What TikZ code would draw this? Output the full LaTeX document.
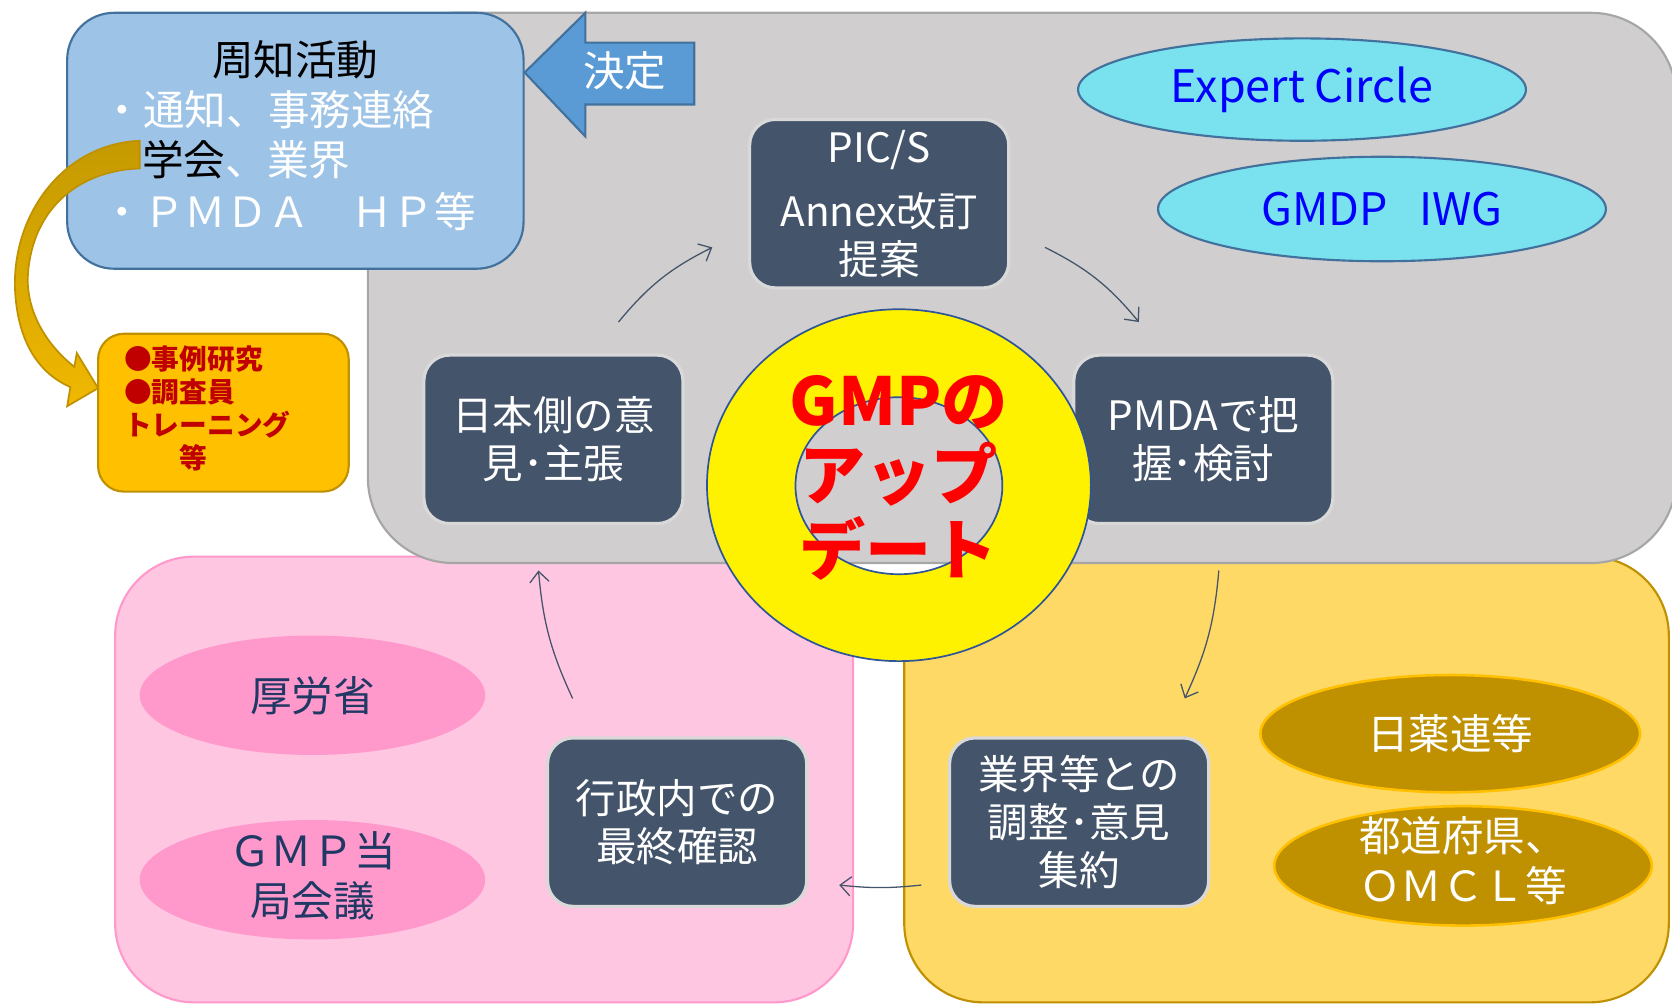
\documentclass[tikz,border=0pt]{standalone}
\usepackage{fontspec}
\setmainfont{Noto Sans CJK JP}
\usetikzlibrary{shapes.geometric,arrows.meta}
\definecolor{graybg}{HTML}{D0CECE}
\definecolor{grayrim}{HTML}{A6A6A6}
\definecolor{bluebox}{HTML}{9DC3E6}
\definecolor{bluerim}{HTML}{41719C}
\definecolor{arrblue}{HTML}{5B9BD5}
\definecolor{pinkbg}{HTML}{FFC6E2}
\definecolor{pinkrim}{HTML}{FF99CC}
\definecolor{orangebg}{HTML}{FFD966}
\definecolor{goldrim}{HTML}{BF9000}
\definecolor{amber}{HTML}{FFC000}
\definecolor{darkbox}{HTML}{44546A}
\definecolor{boxrim}{HTML}{D9D9D9}
\definecolor{cyanell}{HTML}{7AE2EF}
\definecolor{pinkell}{HTML}{FF99CC}
\definecolor{navytext}{HTML}{1F3864}
\definecolor{goldell}{HTML}{BF9000}
\definecolor{ringrim}{HTML}{2F5597}
\definecolor{darkred}{HTML}{C00000}
\definecolor{goldtop}{HTML}{C49A00}
\definecolor{goldbot}{HTML}{F0B800}
\begin{document}
\begin{tikzpicture}[x=0.5pt,y=-0.5pt,
  dbox/.style={rectangle, rounded corners=12pt, fill=darkbox, draw=boxrim, line width=1.5pt,
    minimum width=121.5pt, minimum height=79pt, inner sep=0pt, text=white, align=center,
    font=\fontsize{19pt}{22.5pt}\selectfont},
  ell/.style={ellipse, inner sep=0pt},
  txt/.style={inner sep=0pt, align=center, font=\fontsize{19.5pt}{23.5pt}\selectfont},
  flow/.style={draw=darkbox, line width=0.6pt, -{Straight Barb[length=5pt,width=9pt]}}
]
\useasboundingbox (0,0) rectangle (1568,943);

% background containers
\path[fill=pinkbg, draw=pinkrim, line width=1pt, rounded corners=37pt] (108,522) rectangle (800,940);
\path[fill=orangebg, draw=goldrim, line width=1pt, rounded corners=37pt] (848,522) rectangle (1565,940);
\path[fill=graybg, draw=grayrim, line width=1pt, rounded corners=40pt] (345,12) rectangle (1572,528);

% notice box
\path[fill=bluebox, draw=bluerim, line width=1pt, rounded corners=22pt] (63,12) rectangle (491,252);
\node[txt] (t0) at (277,56) {周知活動};
\node[txt, anchor=west, text=white] (t1) at (95,103) {・通知、事務連絡};
\node[txt, anchor=west] (t2) at (133,150) {\textcolor{black}{学会}\textcolor{white}{、業界}};
\node[txt, anchor=west, text=white] (t3) at (95,198) {・ＰＭＤＡ　ＨＰ等};

% decision arrow
\path[fill=arrblue, draw=bluerim, line width=1pt] (492,68) -- (549,12) -- (549,40) -- (651,40) -- (651,98) -- (549,98) -- (549,128) -- cycle;
\node[txt, text=white] (kettei) at (586,66) {決定};

% small orange box
\path[fill=amber, draw=goldrim, line width=1pt, rounded corners=12pt] (92,313) rectangle (327,461);
\node[inner sep=0pt, anchor=west, align=left, text=darkred, font=\bfseries\fontsize{13pt}{15.6pt}\selectfont] (cases) at (116,383) {●事例研究\\●調査員\\トレーニング\\　　等};

% gold curved arrow
\path[top color=goldtop, bottom color=goldbot, draw=goldrim, line width=0.8pt]
  (131,132) .. controls (60,135) and (12,200) .. (14,270)
  .. controls (16,320) and (36,350) .. (66,363)
  -- (63,381) -- (92,364) -- (72,331) -- (69.7,344)
  .. controls (42,322) and (26,292) .. (26,262)
  .. controls (28,200) and (70,160) .. (131,158) -- cycle;

% ellipses
\node[ell, fill=cyanell, draw=bluerim, line width=1pt, minimum width=210pt, minimum height=48pt,
  text=blue, font=\fontsize{21pt}{25pt}\selectfont] (ec) at (1221,84) {Expert Circle};
\node[ell, fill=cyanell, draw=bluerim, line width=1pt, minimum width=210pt, minimum height=49pt,
  text=blue, font=\fontsize{21pt}{25pt}\selectfont] (iwg) at (1296,196) {GMDP\hspace{0.7em}IWG};
\node[ell, fill=pinkell, minimum width=162pt, minimum height=56pt] (mhlw) at (293,652) {};
\node[txt, text=navytext] (mhlwT) at (mhlw) {厚労省};
\node[ell, fill=pinkell, minimum width=162pt, minimum height=56pt] (gmpm) at (293,825) {};
\node[txt, text=navytext] (gmpmT) at (293,821) {ＧＭＰ当\\局会議};
\node[ell, fill=goldell, draw=amber, line width=1.2pt, minimum width=178pt, minimum height=55pt] (jpma) at (1360,688) {};
\node[txt, text=white] (jpmaT) at (jpma) {日薬連等};
\node[ell, fill=goldell, draw=amber, line width=1.2pt, minimum width=177pt, minimum height=56pt] (pref) at (1372,812) {};
\node[txt, text=white] (prefT) at (1372,807) {都道府県、\\ＯＭＣＬ等};

% cycle boxes
\node[dbox] (pics) at (824.5,191) {PIC/S\\[7.5pt]Annex改訂\\提案};
\node[dbox] (jpn) at (519,412) {日本側の意\\見･主張};
\node[dbox] (pmda) at (1128.5,412) {PMDAで把\\握･検討};
\node[dbox] (gyosei) at (635,771) {行政内での\\最終確認};
\node[dbox] (gyokai) at (1012,771) {業界等との\\調整･意見\\集約};

% central ring (yellow band with a see-through hole)
\fill[yellow, even odd rule] (843,455) ellipse [x radius=90pt, y radius=82.5pt]
  (843,455.5) ellipse [x radius=48.5pt, y radius=41.5pt];
\node[ell, draw=ringrim, line width=0.8pt, minimum width=180pt, minimum height=165pt] (ring) at (843,455) {};
\node[ell, draw=ringrim, line width=0.8pt, minimum width=97pt, minimum height=83pt] (core) at (843,455.5) {};
\node[inner sep=0pt, align=center, text=red, font=\bfseries\fontsize{31pt}{35pt}\selectfont] (gmp) at (843,448) {GMPの\\アップ\\デート};

% connectors
\coordinate (c1a) at (580,302); \coordinate (c1b) at (668,232);
\coordinate (c2a) at (980,232); \coordinate (c2b) at (1068,302);
\coordinate (c3a) at (1143,535); \coordinate (c3b) at (1111,655);
\coordinate (c4a) at (864,830); \coordinate (c4b) at (787,830);
\coordinate (c5a) at (537,655); \coordinate (c5b) at (505,535);
\draw[flow] (c1a) to[bend left=12] (c1b);
\draw[flow] (c2a) to[bend left=12] (c2b);
\draw[flow] (c3a) to[bend left=10] (c3b);
\draw[flow] (c4a) to[bend left=6] (c4b);
\draw[flow] (c5a) to[bend left=10] (c5b);
\end{tikzpicture}
\end{document}
